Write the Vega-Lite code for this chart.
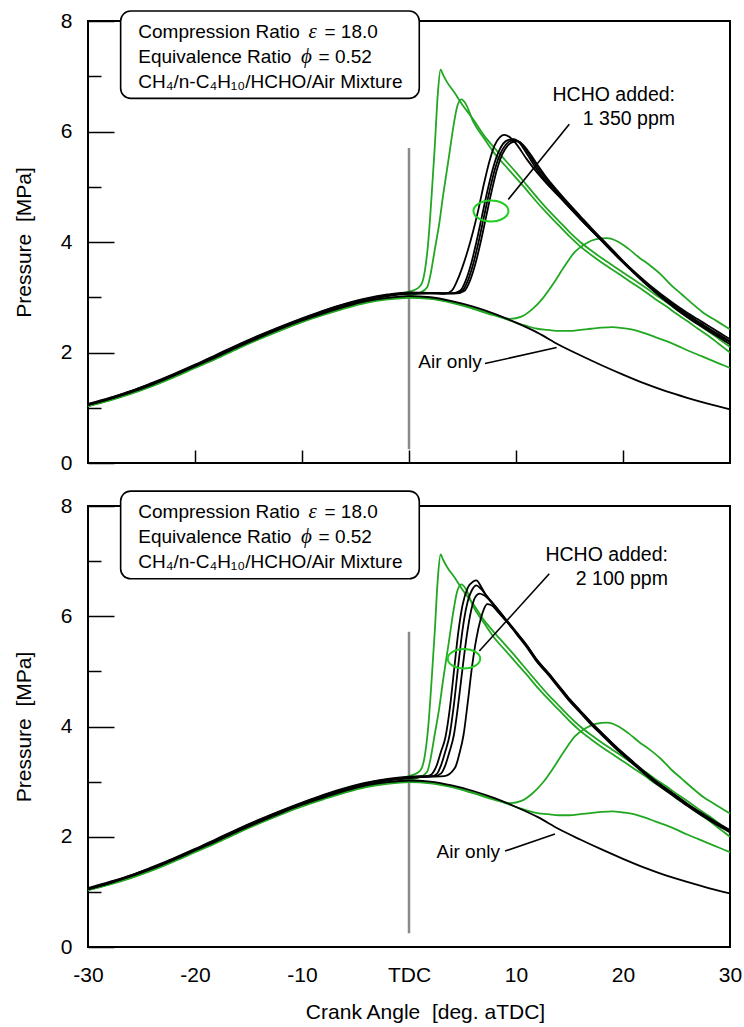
{
"$schema": "https://vega.github.io/schema/vega-lite/v6.json",
"padding": {"left": 12, "top": 9, "right": 5, "bottom": 3},
"spacing": 43,
"bounds": "flush",
"config": {"font": "Liberation Sans", "view": {"stroke": "#000000", "strokeWidth": 2}},
"datasets": {
"common": [
{"s":"G1","x":-30,"y":1.04},{"s":"G1","x":-28,"y":1.15},{"s":"G1","x":-26,"y":1.27},{"s":"G1","x":-24,"y":1.41},{"s":"G1","x":-22,"y":1.57},{"s":"G1","x":-20,"y":1.74},{"s":"G1","x":-18,"y":1.91},{"s":"G1","x":-16,"y":2.09},{"s":"G1","x":-14,"y":2.26},{"s":"G1","x":-12,"y":2.42},{"s":"G1","x":-10,"y":2.57},{"s":"G1","x":-8,"y":2.71},{"s":"G1","x":-6,"y":2.84},{"s":"G1","x":-4,"y":2.95},{"s":"G1","x":-2,"y":3.03},{"s":"G1","x":0,"y":3.1},{"s":"G1","x":0.8,"y":3.16},{"s":"G1","x":1.2,"y":3.25},{"s":"G1","x":1.5,"y":3.5},{"s":"G1","x":1.8,"y":4.0},{"s":"G1","x":2.1,"y":4.8},{"s":"G1","x":2.4,"y":5.7},{"s":"G1","x":2.7,"y":6.7},{"s":"G1","x":2.95,"y":7.12},{"s":"G1","x":3.2,"y":7.02},{"s":"G1","x":3.6,"y":6.88},{"s":"G1","x":4.2,"y":6.72},{"s":"G1","x":5,"y":6.48},{"s":"G1","x":6,"y":6.22},{"s":"G1","x":7,"y":5.93},{"s":"G1","x":8,"y":5.7},{"s":"G1","x":9,"y":5.48},{"s":"G1","x":10,"y":5.26},{"s":"G1","x":11,"y":5.03},{"s":"G1","x":12,"y":4.8},{"s":"G1","x":13,"y":4.58},{"s":"G1","x":14,"y":4.38},{"s":"G1","x":15,"y":4.18},{"s":"G1","x":16,"y":4.0},{"s":"G1","x":17,"y":3.85},{"s":"G1","x":18,"y":3.71},{"s":"G1","x":19,"y":3.58},{"s":"G1","x":20,"y":3.45},{"s":"G1","x":21,"y":3.32},{"s":"G1","x":22,"y":3.19},{"s":"G1","x":23,"y":3.05},{"s":"G1","x":24,"y":2.92},{"s":"G1","x":25,"y":2.78},{"s":"G1","x":26,"y":2.65},{"s":"G1","x":27,"y":2.51},{"s":"G1","x":28,"y":2.38},{"s":"G1","x":29,"y":2.24},{"s":"G1","x":30,"y":2.1},
{"s":"G2","x":-30,"y":1.03},{"s":"G2","x":-28,"y":1.14},{"s":"G2","x":-26,"y":1.26},{"s":"G2","x":-24,"y":1.4},{"s":"G2","x":-22,"y":1.56},{"s":"G2","x":-20,"y":1.73},{"s":"G2","x":-18,"y":1.9},{"s":"G2","x":-16,"y":2.08},{"s":"G2","x":-14,"y":2.25},{"s":"G2","x":-12,"y":2.41},{"s":"G2","x":-10,"y":2.56},{"s":"G2","x":-8,"y":2.69},{"s":"G2","x":-6,"y":2.81},{"s":"G2","x":-4,"y":2.91},{"s":"G2","x":-2,"y":2.98},{"s":"G2","x":0,"y":3.03},{"s":"G2","x":1,"y":3.08},{"s":"G2","x":1.7,"y":3.18},{"s":"G2","x":2.0,"y":3.4},{"s":"G2","x":2.4,"y":3.85},{"s":"G2","x":2.8,"y":4.3},{"s":"G2","x":3.2,"y":4.86},{"s":"G2","x":3.7,"y":5.5},{"s":"G2","x":4.2,"y":6.15},{"s":"G2","x":4.5,"y":6.45},{"s":"G2","x":4.9,"y":6.58},{"s":"G2","x":5.3,"y":6.5},{"s":"G2","x":6,"y":6.18},{"s":"G2","x":7,"y":5.88},{"s":"G2","x":8,"y":5.6},{"s":"G2","x":9,"y":5.38},{"s":"G2","x":10,"y":5.16},{"s":"G2","x":11,"y":4.94},{"s":"G2","x":12,"y":4.71},{"s":"G2","x":13,"y":4.5},{"s":"G2","x":14,"y":4.3},{"s":"G2","x":15,"y":4.1},{"s":"G2","x":16,"y":3.92},{"s":"G2","x":17,"y":3.77},{"s":"G2","x":18,"y":3.63},{"s":"G2","x":19,"y":3.5},{"s":"G2","x":20,"y":3.37},{"s":"G2","x":21,"y":3.24},{"s":"G2","x":22,"y":3.11},{"s":"G2","x":23,"y":2.97},{"s":"G2","x":24,"y":2.84},{"s":"G2","x":25,"y":2.7},{"s":"G2","x":26,"y":2.57},{"s":"G2","x":27,"y":2.43},{"s":"G2","x":28,"y":2.3},{"s":"G2","x":29,"y":2.15},{"s":"G2","x":30,"y":2.0},
{"s":"G3","x":-30,"y":1.03},{"s":"G3","x":-28,"y":1.13},{"s":"G3","x":-26,"y":1.25},{"s":"G3","x":-24,"y":1.39},{"s":"G3","x":-22,"y":1.55},{"s":"G3","x":-20,"y":1.72},{"s":"G3","x":-18,"y":1.89},{"s":"G3","x":-16,"y":2.07},{"s":"G3","x":-14,"y":2.24},{"s":"G3","x":-12,"y":2.4},{"s":"G3","x":-10,"y":2.55},{"s":"G3","x":-8,"y":2.68},{"s":"G3","x":-6,"y":2.8},{"s":"G3","x":-4,"y":2.9},{"s":"G3","x":-2,"y":2.96},{"s":"G3","x":0,"y":2.99},{"s":"G3","x":2,"y":2.97},{"s":"G3","x":4,"y":2.9},{"s":"G3","x":6,"y":2.79},{"s":"G3","x":8,"y":2.67},{"s":"G3","x":9.5,"y":2.61},{"s":"G3","x":10.5,"y":2.65},{"s":"G3","x":11.5,"y":2.78},{"s":"G3","x":12.5,"y":2.98},{"s":"G3","x":13.5,"y":3.25},{"s":"G3","x":14.5,"y":3.55},{"s":"G3","x":15.5,"y":3.82},{"s":"G3","x":16.5,"y":3.97},{"s":"G3","x":17.5,"y":4.05},{"s":"G3","x":18.5,"y":4.07},{"s":"G3","x":19.5,"y":4.01},{"s":"G3","x":20.5,"y":3.88},{"s":"G3","x":21.5,"y":3.72},{"s":"G3","x":22.5,"y":3.58},{"s":"G3","x":23.5,"y":3.42},{"s":"G3","x":24.5,"y":3.22},{"s":"G3","x":25.5,"y":3.05},{"s":"G3","x":26.5,"y":2.88},{"s":"G3","x":27.5,"y":2.72},{"s":"G3","x":28.5,"y":2.6},{"s":"G3","x":29.5,"y":2.48},{"s":"G3","x":30,"y":2.42},
{"s":"G4","x":-30,"y":1.04},{"s":"G4","x":-28,"y":1.15},{"s":"G4","x":-26,"y":1.27},{"s":"G4","x":-24,"y":1.41},{"s":"G4","x":-22,"y":1.57},{"s":"G4","x":-20,"y":1.74},{"s":"G4","x":-18,"y":1.91},{"s":"G4","x":-16,"y":2.09},{"s":"G4","x":-14,"y":2.26},{"s":"G4","x":-12,"y":2.42},{"s":"G4","x":-10,"y":2.57},{"s":"G4","x":-8,"y":2.7},{"s":"G4","x":-6,"y":2.82},{"s":"G4","x":-4,"y":2.92},{"s":"G4","x":-2,"y":2.98},{"s":"G4","x":0,"y":3.01},{"s":"G4","x":2,"y":2.98},{"s":"G4","x":4,"y":2.91},{"s":"G4","x":6,"y":2.8},{"s":"G4","x":8,"y":2.68},{"s":"G4","x":10,"y":2.54},{"s":"G4","x":11,"y":2.48},{"s":"G4","x":12,"y":2.43},{"s":"G4","x":13,"y":2.41},{"s":"G4","x":14,"y":2.39},{"s":"G4","x":15,"y":2.39},{"s":"G4","x":16,"y":2.41},{"s":"G4","x":17,"y":2.43},{"s":"G4","x":18,"y":2.45},{"s":"G4","x":19,"y":2.46},{"s":"G4","x":20,"y":2.44},{"s":"G4","x":21,"y":2.41},{"s":"G4","x":22,"y":2.35},{"s":"G4","x":23,"y":2.28},{"s":"G4","x":24,"y":2.21},{"s":"G4","x":25,"y":2.13},{"s":"G4","x":26,"y":2.04},{"s":"G4","x":27,"y":1.96},{"s":"G4","x":28,"y":1.88},{"s":"G4","x":29,"y":1.8},{"s":"G4","x":30,"y":1.72},
{"s":"Air","x":-30,"y":1.05},{"s":"Air","x":-28,"y":1.16},{"s":"Air","x":-26,"y":1.28},{"s":"Air","x":-24,"y":1.42},{"s":"Air","x":-22,"y":1.58},{"s":"Air","x":-20,"y":1.75},{"s":"Air","x":-18,"y":1.92},{"s":"Air","x":-16,"y":2.1},{"s":"Air","x":-14,"y":2.27},{"s":"Air","x":-12,"y":2.43},{"s":"Air","x":-10,"y":2.58},{"s":"Air","x":-8,"y":2.71},{"s":"Air","x":-6,"y":2.83},{"s":"Air","x":-4,"y":2.93},{"s":"Air","x":-2,"y":2.99},{"s":"Air","x":0,"y":3.02},{"s":"Air","x":2,"y":3.0},{"s":"Air","x":4,"y":2.93},{"s":"Air","x":6,"y":2.83},{"s":"Air","x":8,"y":2.7},{"s":"Air","x":10,"y":2.54},{"s":"Air","x":12,"y":2.36},{"s":"Air","x":14,"y":2.14},{"s":"Air","x":16,"y":1.95},{"s":"Air","x":18,"y":1.77},{"s":"Air","x":20,"y":1.6},{"s":"Air","x":22,"y":1.44},{"s":"Air","x":24,"y":1.3},{"s":"Air","x":26,"y":1.18},{"s":"Air","x":28,"y":1.07},{"s":"Air","x":30,"y":0.97}
],
"top": [
{"s":"B1","x":-30,"y":1.06},{"s":"B1","x":-28,"y":1.17},{"s":"B1","x":-26,"y":1.3},{"s":"B1","x":-24,"y":1.44},{"s":"B1","x":-22,"y":1.6},{"s":"B1","x":-20,"y":1.77},{"s":"B1","x":-18,"y":1.95},{"s":"B1","x":-16,"y":2.13},{"s":"B1","x":-14,"y":2.3},{"s":"B1","x":-12,"y":2.46},{"s":"B1","x":-10,"y":2.61},{"s":"B1","x":-8,"y":2.75},{"s":"B1","x":-6,"y":2.87},{"s":"B1","x":-4,"y":2.97},{"s":"B1","x":-2,"y":3.04},{"s":"B1","x":0,"y":3.07},{"s":"B1","x":2,"y":3.07},{"s":"B1","x":3.3,"y":3.06},{"s":"B1","x":4.0,"y":3.12},{"s":"B1","x":4.5,"y":3.3},{"s":"B1","x":5.0,"y":3.55},{"s":"B1","x":5.5,"y":3.85},{"s":"B1","x":6.0,"y":4.2},{"s":"B1","x":6.5,"y":4.6},{"s":"B1","x":7.0,"y":5.05},{"s":"B1","x":7.5,"y":5.45},{"s":"B1","x":8.0,"y":5.75},{"s":"B1","x":8.5,"y":5.9},{"s":"B1","x":8.9,"y":5.94},{"s":"B1","x":9.4,"y":5.9},{"s":"B1","x":10,"y":5.78},{"s":"B1","x":11,"y":5.5},{"s":"B1","x":12,"y":5.25},{"s":"B1","x":13,"y":5.03},{"s":"B1","x":14,"y":4.83},{"s":"B1","x":15,"y":4.62},{"s":"B1","x":16,"y":4.42},{"s":"B1","x":17,"y":4.22},{"s":"B1","x":18,"y":4.04},{"s":"B1","x":19,"y":3.84},{"s":"B1","x":20,"y":3.65},{"s":"B1","x":21,"y":3.47},{"s":"B1","x":22,"y":3.3},{"s":"B1","x":23,"y":3.14},{"s":"B1","x":24,"y":2.99},{"s":"B1","x":25,"y":2.85},{"s":"B1","x":26,"y":2.72},{"s":"B1","x":27,"y":2.6},{"s":"B1","x":28,"y":2.48},{"s":"B1","x":29,"y":2.36},{"s":"B1","x":30,"y":2.24},
{"s":"B2","x":-30,"y":1.05},{"s":"B2","x":-28,"y":1.16},{"s":"B2","x":-26,"y":1.29},{"s":"B2","x":-24,"y":1.43},{"s":"B2","x":-22,"y":1.59},{"s":"B2","x":-20,"y":1.76},{"s":"B2","x":-18,"y":1.94},{"s":"B2","x":-16,"y":2.12},{"s":"B2","x":-14,"y":2.29},{"s":"B2","x":-12,"y":2.45},{"s":"B2","x":-10,"y":2.6},{"s":"B2","x":-8,"y":2.74},{"s":"B2","x":-6,"y":2.86},{"s":"B2","x":-4,"y":2.96},{"s":"B2","x":-2,"y":3.03},{"s":"B2","x":0,"y":3.08},{"s":"B2","x":2,"y":3.08},{"s":"B2","x":4.0,"y":3.07},{"s":"B2","x":4.8,"y":3.12},{"s":"B2","x":5.3,"y":3.3},{"s":"B2","x":5.8,"y":3.6},{"s":"B2","x":6.3,"y":4.0},{"s":"B2","x":6.8,"y":4.45},{"s":"B2","x":7.3,"y":4.9},{"s":"B2","x":7.8,"y":5.3},{"s":"B2","x":8.3,"y":5.6},{"s":"B2","x":8.8,"y":5.78},{"s":"B2","x":9.3,"y":5.85},{"s":"B2","x":9.8,"y":5.86},{"s":"B2","x":10.3,"y":5.8},{"s":"B2","x":11,"y":5.6},{"s":"B2","x":12,"y":5.3},{"s":"B2","x":13,"y":5.06},{"s":"B2","x":14,"y":4.84},{"s":"B2","x":15,"y":4.63},{"s":"B2","x":16,"y":4.42},{"s":"B2","x":17,"y":4.22},{"s":"B2","x":18,"y":4.02},{"s":"B2","x":19,"y":3.82},{"s":"B2","x":20,"y":3.63},{"s":"B2","x":21,"y":3.45},{"s":"B2","x":22,"y":3.28},{"s":"B2","x":23,"y":3.11},{"s":"B2","x":24,"y":2.96},{"s":"B2","x":25,"y":2.82},{"s":"B2","x":26,"y":2.69},{"s":"B2","x":27,"y":2.56},{"s":"B2","x":28,"y":2.44},{"s":"B2","x":29,"y":2.32},{"s":"B2","x":30,"y":2.2},
{"s":"B3","x":-30,"y":1.07},{"s":"B3","x":-28,"y":1.18},{"s":"B3","x":-26,"y":1.3},{"s":"B3","x":-24,"y":1.45},{"s":"B3","x":-22,"y":1.61},{"s":"B3","x":-20,"y":1.78},{"s":"B3","x":-18,"y":1.96},{"s":"B3","x":-16,"y":2.14},{"s":"B3","x":-14,"y":2.31},{"s":"B3","x":-12,"y":2.47},{"s":"B3","x":-10,"y":2.62},{"s":"B3","x":-8,"y":2.76},{"s":"B3","x":-6,"y":2.88},{"s":"B3","x":-4,"y":2.98},{"s":"B3","x":-2,"y":3.05},{"s":"B3","x":0,"y":3.09},{"s":"B3","x":2,"y":3.08},{"s":"B3","x":4.2,"y":3.07},{"s":"B3","x":5.0,"y":3.12},{"s":"B3","x":5.5,"y":3.3},{"s":"B3","x":6.0,"y":3.6},{"s":"B3","x":6.5,"y":4.0},{"s":"B3","x":7.0,"y":4.45},{"s":"B3","x":7.5,"y":4.9},{"s":"B3","x":8.0,"y":5.3},{"s":"B3","x":8.5,"y":5.58},{"s":"B3","x":9.0,"y":5.75},{"s":"B3","x":9.5,"y":5.83},{"s":"B3","x":10.0,"y":5.84},{"s":"B3","x":10.5,"y":5.78},{"s":"B3","x":11,"y":5.65},{"s":"B3","x":12,"y":5.35},{"s":"B3","x":13,"y":5.1},{"s":"B3","x":14,"y":4.87},{"s":"B3","x":15,"y":4.65},{"s":"B3","x":16,"y":4.44},{"s":"B3","x":17,"y":4.23},{"s":"B3","x":18,"y":4.03},{"s":"B3","x":19,"y":3.83},{"s":"B3","x":20,"y":3.63},{"s":"B3","x":21,"y":3.44},{"s":"B3","x":22,"y":3.26},{"s":"B3","x":23,"y":3.09},{"s":"B3","x":24,"y":2.93},{"s":"B3","x":25,"y":2.78},{"s":"B3","x":26,"y":2.64},{"s":"B3","x":27,"y":2.51},{"s":"B3","x":28,"y":2.39},{"s":"B3","x":29,"y":2.27},{"s":"B3","x":30,"y":2.15},
{"s":"B4","x":-30,"y":1.06},{"s":"B4","x":-28,"y":1.16},{"s":"B4","x":-26,"y":1.29},{"s":"B4","x":-24,"y":1.43},{"s":"B4","x":-22,"y":1.59},{"s":"B4","x":-20,"y":1.76},{"s":"B4","x":-18,"y":1.93},{"s":"B4","x":-16,"y":2.11},{"s":"B4","x":-14,"y":2.28},{"s":"B4","x":-12,"y":2.44},{"s":"B4","x":-10,"y":2.59},{"s":"B4","x":-8,"y":2.73},{"s":"B4","x":-6,"y":2.85},{"s":"B4","x":-4,"y":2.95},{"s":"B4","x":-2,"y":3.02},{"s":"B4","x":0,"y":3.06},{"s":"B4","x":2,"y":3.07},{"s":"B4","x":4.4,"y":3.07},{"s":"B4","x":5.2,"y":3.12},{"s":"B4","x":5.7,"y":3.3},{"s":"B4","x":6.2,"y":3.6},{"s":"B4","x":6.7,"y":4.0},{"s":"B4","x":7.2,"y":4.45},{"s":"B4","x":7.7,"y":4.9},{"s":"B4","x":8.2,"y":5.3},{"s":"B4","x":8.7,"y":5.58},{"s":"B4","x":9.2,"y":5.74},{"s":"B4","x":9.7,"y":5.81},{"s":"B4","x":10.2,"y":5.82},{"s":"B4","x":10.7,"y":5.75},{"s":"B4","x":11.3,"y":5.6},{"s":"B4","x":12,"y":5.4},{"s":"B4","x":13,"y":5.13},{"s":"B4","x":14,"y":4.9},{"s":"B4","x":15,"y":4.68},{"s":"B4","x":16,"y":4.47},{"s":"B4","x":17,"y":4.26},{"s":"B4","x":18,"y":4.06},{"s":"B4","x":19,"y":3.86},{"s":"B4","x":20,"y":3.66},{"s":"B4","x":21,"y":3.47},{"s":"B4","x":22,"y":3.29},{"s":"B4","x":23,"y":3.12},{"s":"B4","x":24,"y":2.96},{"s":"B4","x":25,"y":2.81},{"s":"B4","x":26,"y":2.67},{"s":"B4","x":27,"y":2.54},{"s":"B4","x":28,"y":2.42},{"s":"B4","x":29,"y":2.3},{"s":"B4","x":30,"y":2.19}
],
"bottom": [
{"s":"B1","x":-30,"y":1.06},{"s":"B1","x":-28,"y":1.17},{"s":"B1","x":-26,"y":1.3},{"s":"B1","x":-24,"y":1.44},{"s":"B1","x":-22,"y":1.6},{"s":"B1","x":-20,"y":1.77},{"s":"B1","x":-18,"y":1.95},{"s":"B1","x":-16,"y":2.13},{"s":"B1","x":-14,"y":2.3},{"s":"B1","x":-12,"y":2.46},{"s":"B1","x":-10,"y":2.61},{"s":"B1","x":-8,"y":2.75},{"s":"B1","x":-6,"y":2.87},{"s":"B1","x":-4,"y":2.97},{"s":"B1","x":-2,"y":3.04},{"s":"B1","x":0,"y":3.07},{"s":"B1","x":1,"y":3.08},{"s":"B1","x":2,"y":3.12},{"s":"B1","x":2.6,"y":3.3},{"s":"B1","x":3.0,"y":3.55},{"s":"B1","x":3.4,"y":3.8},{"s":"B1","x":3.8,"y":4.3},{"s":"B1","x":4.2,"y":5.0},{"s":"B1","x":4.6,"y":5.7},{"s":"B1","x":5.0,"y":6.2},{"s":"B1","x":5.5,"y":6.52},{"s":"B1","x":6.0,"y":6.63},{"s":"B1","x":6.3,"y":6.65},{"s":"B1","x":6.7,"y":6.55},{"s":"B1","x":7.2,"y":6.38},{"s":"B1","x":8,"y":6.18},{"s":"B1","x":9,"y":5.94},{"s":"B1","x":10,"y":5.7},{"s":"B1","x":11,"y":5.46},{"s":"B1","x":12,"y":5.18},{"s":"B1","x":13,"y":4.96},{"s":"B1","x":14,"y":4.72},{"s":"B1","x":15,"y":4.48},{"s":"B1","x":16,"y":4.27},{"s":"B1","x":17,"y":4.06},{"s":"B1","x":18,"y":3.87},{"s":"B1","x":19,"y":3.68},{"s":"B1","x":20,"y":3.5},{"s":"B1","x":21,"y":3.33},{"s":"B1","x":22,"y":3.16},{"s":"B1","x":23,"y":3.0},{"s":"B1","x":24,"y":2.86},{"s":"B1","x":25,"y":2.72},{"s":"B1","x":26,"y":2.58},{"s":"B1","x":27,"y":2.45},{"s":"B1","x":28,"y":2.33},{"s":"B1","x":29,"y":2.21},{"s":"B1","x":30,"y":2.1},
{"s":"B2","x":-30,"y":1.05},{"s":"B2","x":-28,"y":1.16},{"s":"B2","x":-26,"y":1.29},{"s":"B2","x":-24,"y":1.43},{"s":"B2","x":-22,"y":1.59},{"s":"B2","x":-20,"y":1.76},{"s":"B2","x":-18,"y":1.94},{"s":"B2","x":-16,"y":2.12},{"s":"B2","x":-14,"y":2.29},{"s":"B2","x":-12,"y":2.45},{"s":"B2","x":-10,"y":2.6},{"s":"B2","x":-8,"y":2.74},{"s":"B2","x":-6,"y":2.86},{"s":"B2","x":-4,"y":2.96},{"s":"B2","x":-2,"y":3.03},{"s":"B2","x":0,"y":3.08},{"s":"B2","x":1,"y":3.09},{"s":"B2","x":2,"y":3.09},{"s":"B2","x":2.6,"y":3.14},{"s":"B2","x":3.0,"y":3.3},{"s":"B2","x":3.4,"y":3.55},{"s":"B2","x":3.8,"y":3.85},{"s":"B2","x":4.2,"y":4.4},{"s":"B2","x":4.6,"y":5.1},{"s":"B2","x":5.0,"y":5.75},{"s":"B2","x":5.4,"y":6.2},{"s":"B2","x":5.9,"y":6.48},{"s":"B2","x":6.3,"y":6.56},{"s":"B2","x":6.7,"y":6.5},{"s":"B2","x":7.3,"y":6.36},{"s":"B2","x":8,"y":6.2},{"s":"B2","x":9,"y":5.96},{"s":"B2","x":10,"y":5.72},{"s":"B2","x":11,"y":5.48},{"s":"B2","x":12,"y":5.2},{"s":"B2","x":13,"y":4.98},{"s":"B2","x":14,"y":4.74},{"s":"B2","x":15,"y":4.5},{"s":"B2","x":16,"y":4.29},{"s":"B2","x":17,"y":4.08},{"s":"B2","x":18,"y":3.89},{"s":"B2","x":19,"y":3.7},{"s":"B2","x":20,"y":3.52},{"s":"B2","x":21,"y":3.35},{"s":"B2","x":22,"y":3.18},{"s":"B2","x":23,"y":3.02},{"s":"B2","x":24,"y":2.88},{"s":"B2","x":25,"y":2.74},{"s":"B2","x":26,"y":2.6},{"s":"B2","x":27,"y":2.47},{"s":"B2","x":28,"y":2.35},{"s":"B2","x":29,"y":2.23},{"s":"B2","x":30,"y":2.12},
{"s":"B3","x":-30,"y":1.07},{"s":"B3","x":-28,"y":1.18},{"s":"B3","x":-26,"y":1.3},{"s":"B3","x":-24,"y":1.45},{"s":"B3","x":-22,"y":1.61},{"s":"B3","x":-20,"y":1.78},{"s":"B3","x":-18,"y":1.96},{"s":"B3","x":-16,"y":2.14},{"s":"B3","x":-14,"y":2.31},{"s":"B3","x":-12,"y":2.47},{"s":"B3","x":-10,"y":2.62},{"s":"B3","x":-8,"y":2.76},{"s":"B3","x":-6,"y":2.88},{"s":"B3","x":-4,"y":2.98},{"s":"B3","x":-2,"y":3.05},{"s":"B3","x":0,"y":3.09},{"s":"B3","x":1,"y":3.1},{"s":"B3","x":2.4,"y":3.1},{"s":"B3","x":3.0,"y":3.15},{"s":"B3","x":3.4,"y":3.3},{"s":"B3","x":3.8,"y":3.55},{"s":"B3","x":4.2,"y":3.85},{"s":"B3","x":4.6,"y":4.4},{"s":"B3","x":5.0,"y":5.05},{"s":"B3","x":5.4,"y":5.65},{"s":"B3","x":5.8,"y":6.1},{"s":"B3","x":6.2,"y":6.35},{"s":"B3","x":6.6,"y":6.41},{"s":"B3","x":7.0,"y":6.38},{"s":"B3","x":7.6,"y":6.28},{"s":"B3","x":8.3,"y":6.12},{"s":"B3","x":9,"y":5.94},{"s":"B3","x":10,"y":5.69},{"s":"B3","x":11,"y":5.44},{"s":"B3","x":12,"y":5.16},{"s":"B3","x":13,"y":4.94},{"s":"B3","x":14,"y":4.7},{"s":"B3","x":15,"y":4.46},{"s":"B3","x":16,"y":4.25},{"s":"B3","x":17,"y":4.04},{"s":"B3","x":18,"y":3.85},{"s":"B3","x":19,"y":3.66},{"s":"B3","x":20,"y":3.48},{"s":"B3","x":21,"y":3.31},{"s":"B3","x":22,"y":3.14},{"s":"B3","x":23,"y":2.98},{"s":"B3","x":24,"y":2.84},{"s":"B3","x":25,"y":2.7},{"s":"B3","x":26,"y":2.56},{"s":"B3","x":27,"y":2.43},{"s":"B3","x":28,"y":2.31},{"s":"B3","x":29,"y":2.19},{"s":"B3","x":30,"y":2.08},
{"s":"B4","x":-30,"y":1.06},{"s":"B4","x":-28,"y":1.16},{"s":"B4","x":-26,"y":1.29},{"s":"B4","x":-24,"y":1.43},{"s":"B4","x":-22,"y":1.59},{"s":"B4","x":-20,"y":1.76},{"s":"B4","x":-18,"y":1.93},{"s":"B4","x":-16,"y":2.11},{"s":"B4","x":-14,"y":2.28},{"s":"B4","x":-12,"y":2.44},{"s":"B4","x":-10,"y":2.59},{"s":"B4","x":-8,"y":2.73},{"s":"B4","x":-6,"y":2.85},{"s":"B4","x":-4,"y":2.95},{"s":"B4","x":-2,"y":3.02},{"s":"B4","x":0,"y":3.06},{"s":"B4","x":1,"y":3.08},{"s":"B4","x":2,"y":3.09},{"s":"B4","x":3.3,"y":3.1},{"s":"B4","x":4.3,"y":3.25},{"s":"B4","x":4.7,"y":3.5},{"s":"B4","x":5.1,"y":3.85},{"s":"B4","x":5.5,"y":4.45},{"s":"B4","x":5.9,"y":5.1},{"s":"B4","x":6.3,"y":5.6},{"s":"B4","x":6.7,"y":5.95},{"s":"B4","x":7.0,"y":6.13},{"s":"B4","x":7.3,"y":6.22},{"s":"B4","x":7.7,"y":6.2},{"s":"B4","x":8.3,"y":6.08},{"s":"B4","x":9,"y":5.93},{"s":"B4","x":10,"y":5.71},{"s":"B4","x":11,"y":5.47},{"s":"B4","x":12,"y":5.19},{"s":"B4","x":13,"y":4.97},{"s":"B4","x":14,"y":4.73},{"s":"B4","x":15,"y":4.49},{"s":"B4","x":16,"y":4.28},{"s":"B4","x":17,"y":4.07},{"s":"B4","x":18,"y":3.88},{"s":"B4","x":19,"y":3.69},{"s":"B4","x":20,"y":3.51},{"s":"B4","x":21,"y":3.34},{"s":"B4","x":22,"y":3.17},{"s":"B4","x":23,"y":3.01},{"s":"B4","x":24,"y":2.87},{"s":"B4","x":25,"y":2.73},{"s":"B4","x":26,"y":2.59},{"s":"B4","x":27,"y":2.46},{"s":"B4","x":28,"y":2.34},{"s":"B4","x":29,"y":2.22},{"s":"B4","x":30,"y":2.11}
],
"notes": [
{"p":"top","k":"tdc","x":0,"y":0.25,"y2":5.7},
{"p":"bottom","k":"tdc","x":0,"y":0.25,"y2":5.72},
{"p":"top","k":"box","x":-26.95,"x2":0.96,"y":8.18,"y2":6.6},
{"p":"bottom","k":"box","x":-26.95,"x2":0.96,"y":8.27,"y2":6.68},
{"p":"top","k":"txt","x":-25.3,"y":7.69,"t":"Compression Ratio"},
{"p":"top","k":"txt","x":-7.9,"y":7.69,"t":"= 18.0"},
{"p":"top","k":"txt","x":-25.3,"y":7.24,"t":"Equivalence Ratio"},
{"p":"top","k":"txt","x":-8.45,"y":7.24,"t":"= 0.52"},
{"p":"top","k":"txt","x":-25.3,"y":6.79,"t":"CH₄/n-C₄H₁₀/HCHO/Air Mixture"},
{"p":"top","k":"txt","x":0.87,"y":1.72,"t":"Air only"},
{"p":"top","k":"sym","x":-9.4,"y":7.69,"t":"ε"},
{"p":"top","k":"sym","x":-10.1,"y":7.24,"t":"ϕ"},
{"p":"bottom","k":"txt","x":-25.3,"y":7.78,"t":"Compression Ratio"},
{"p":"bottom","k":"txt","x":-7.9,"y":7.78,"t":"= 18.0"},
{"p":"bottom","k":"txt","x":-25.3,"y":7.33,"t":"Equivalence Ratio"},
{"p":"bottom","k":"txt","x":-8.45,"y":7.33,"t":"= 0.52"},
{"p":"bottom","k":"txt","x":-25.3,"y":6.88,"t":"CH₄/n-C₄H₁₀/HCHO/Air Mixture"},
{"p":"bottom","k":"txt","x":2.58,"y":1.61,"t":"Air only"},
{"p":"bottom","k":"sym","x":-9.4,"y":7.78,"t":"ε"},
{"p":"bottom","k":"sym","x":-10.1,"y":7.33,"t":"ϕ"},
{"p":"top","k":"rtxt","x":24.86,"y":6.56,"t":"HCHO added:"},
{"p":"top","k":"rtxt","x":24.86,"y":6.12,"t":"1 350 ppm"},
{"p":"bottom","k":"rtxt","x":24.2,"y":7.0,"t":"HCHO added:"},
{"p":"bottom","k":"rtxt","x":24.2,"y":6.57,"t":"2 100 ppm"},
{"p":"top","k":"ptr","x":14.98,"y":6.13,"x2":9.28,"y2":4.77},
{"p":"top","k":"ptr","x":7.1,"y":1.8,"x2":13.8,"y2":2.09},
{"p":"bottom","k":"ptr","x":13.11,"y":6.77,"x2":6.57,"y2":5.37},
{"p":"bottom","k":"ptr","x":8.97,"y":1.74,"x2":13.64,"y2":2.05},
{"p":"top","k":"ell","x":7.66,"y":4.56},
{"p":"bottom","k":"ell","x":5.14,"y":5.23}
]
},
"vconcat": [
{
"width": 642, "height": 442,
"layer": [
{"data": {"name": "notes"}, "transform": [{"filter": "datum.p === 'top' && datum.k === 'tdc'"}],
 "mark": {"type": "rule", "color": "#8a8a8a", "strokeWidth": 2.5},
 "encoding": {
  "x": {"field": "x", "type": "quantitative", "scale": {"domain": [-30, 30], "nice": false},
   "axis": {"values": [-20, -10, 0, 10, 20], "labels": false, "tickSize": -13, "tickWidth": 1.5, "tickColor": "#000000", "domain": false, "grid": false, "title": null}},
  "y": {"field": "y", "type": "quantitative", "scale": {"domain": [0, 8], "nice": false},
   "axis": {"values": [0, 1, 2, 3, 4, 5, 6, 7, 8], "labelExpr": "datum.value % 2 === 0 ? '' + datum.value : ''",
    "tickSize": {"condition": {"test": "datum.value % 2 === 0", "value": -26}, "value": -13},
    "tickWidth": 1.5, "tickColor": "#000000", "labelPadding": 42, "labelFontSize": 21, "labelColor": "#000000",
    "domain": false, "grid": false, "title": "Pressure \u00a0[MPa]", "titleFontSize": 21, "titleFontWeight": "normal", "titleColor": "#000000", "titlePadding": 26}},
  "y2": {"field": "y2"}}},
{"data": {"name": "common"}, "mark": {"type": "line", "strokeWidth": 1.8, "interpolate": "monotone"},
 "encoding": {"x": {"field": "x", "type": "quantitative"}, "y": {"field": "y", "type": "quantitative"},
  "color": {"field": "s", "type": "nominal", "legend": null, "scale": {"domain": ["G1","G2","G3","G4","Air","B1","B2","B3","B4"], "range": ["#22a722","#22a722","#22a722","#22a722","#000000","#000000","#000000","#000000","#000000"]}}}},
{"data": {"name": "top"}, "mark": {"type": "line", "strokeWidth": 1.8, "interpolate": "monotone"},
 "encoding": {"x": {"field": "x", "type": "quantitative"}, "y": {"field": "y", "type": "quantitative"},
  "color": {"field": "s", "type": "nominal", "legend": null}}},
{"data": {"name": "notes"}, "transform": [{"filter": "datum.p === 'top' && datum.k === 'box'"}],
 "mark": {"type": "rect", "fill": "#ffffff", "stroke": "#000000", "strokeWidth": 1.6, "cornerRadius": 10},
 "encoding": {"x": {"field": "x", "type": "quantitative"}, "x2": {"field": "x2"}, "y": {"field": "y", "type": "quantitative"}, "y2": {"field": "y2"}}},
{"data": {"name": "notes"}, "transform": [{"filter": "datum.p === 'top' && datum.k === 'txt'"}],
 "mark": {"type": "text", "align": "left", "baseline": "alphabetic", "fontSize": 19, "color": "#000000"},
 "encoding": {"x": {"field": "x", "type": "quantitative"}, "y": {"field": "y", "type": "quantitative"}, "text": {"field": "t"}}},
{"data": {"name": "notes"}, "transform": [{"filter": "datum.p === 'top' && datum.k === 'sym'"}],
 "mark": {"type": "text", "align": "left", "baseline": "alphabetic", "fontSize": 21, "font": "Liberation Serif", "fontStyle": "italic", "color": "#000000"},
 "encoding": {"x": {"field": "x", "type": "quantitative"}, "y": {"field": "y", "type": "quantitative"}, "text": {"field": "t"}}},
{"data": {"name": "notes"}, "transform": [{"filter": "datum.p === 'top' && datum.k === 'rtxt'"}],
 "mark": {"type": "text", "align": "right", "baseline": "alphabetic", "fontSize": 19.5, "color": "#000000"},
 "encoding": {"x": {"field": "x", "type": "quantitative"}, "y": {"field": "y", "type": "quantitative"}, "text": {"field": "t"}}},
{"data": {"name": "notes"}, "transform": [{"filter": "datum.p === 'top' && datum.k === 'ptr'"}],
 "mark": {"type": "rule", "color": "#000000", "strokeWidth": 1.6},
 "encoding": {"x": {"field": "x", "type": "quantitative"}, "y": {"field": "y", "type": "quantitative"}, "x2": {"field": "x2"}, "y2": {"field": "y2"}}},
{"data": {"name": "notes"}, "transform": [{"filter": "datum.p === 'top' && datum.k === 'ell'"}],
 "mark": {"type": "point", "filled": false, "stroke": "#22cc22", "strokeWidth": 2, "opacity": 1,
  "shape": "M -1 0 C -1 -0.331 -0.552 -0.6 0 -0.6 C 0.552 -0.6 1 -0.331 1 0 C 1 0.331 0.552 0.6 0 0.6 C -0.552 0.6 -1 0.331 -1 0 Z"},
 "encoding": {"x": {"field": "x", "type": "quantitative"}, "y": {"field": "y", "type": "quantitative"}, "size": {"value": 1225}}}
]
},
{
"width": 642, "height": 441,
"layer": [
{"data": {"name": "notes"}, "transform": [{"filter": "datum.p === 'bottom' && datum.k === 'tdc'"}],
 "mark": {"type": "rule", "color": "#8a8a8a", "strokeWidth": 2.5},
 "encoding": {
  "x": {"field": "x", "type": "quantitative", "scale": {"domain": [-30, 30], "nice": false},
   "axis": {"values": [-30, -20, -10, 0, 10, 20, 30], "labelExpr": "datum.value === 0 ? 'TDC' : '' + datum.value",
    "ticks": false, "labelPadding": 17, "labelFontSize": 21, "labelColor": "#000000", "labelFlush": false, "labelOverlap": false,
    "domain": false, "grid": false, "title": "Crank Angle\u00a0 [deg. aTDC]", "titleFontSize": 21, "titleFontWeight": "normal", "titleColor": "#000000", "titlePadding": 16, "titleX": 337}},
  "y": {"field": "y", "type": "quantitative", "scale": {"domain": [0, 8], "nice": false},
   "axis": {"values": [0, 1, 2, 3, 4, 5, 6, 7, 8], "labelExpr": "datum.value % 2 === 0 ? '' + datum.value : ''",
    "tickSize": {"condition": {"test": "datum.value % 2 === 0", "value": -26}, "value": -13},
    "tickWidth": 1.5, "tickColor": "#000000", "labelPadding": 42, "labelFontSize": 21, "labelColor": "#000000",
    "domain": false, "grid": false, "title": "Pressure \u00a0[MPa]", "titleFontSize": 21, "titleFontWeight": "normal", "titleColor": "#000000", "titlePadding": 26}},
  "y2": {"field": "y2"}}},
{"data": {"name": "common"}, "mark": {"type": "line", "strokeWidth": 1.8, "interpolate": "monotone"},
 "encoding": {"x": {"field": "x", "type": "quantitative"}, "y": {"field": "y", "type": "quantitative"},
  "color": {"field": "s", "type": "nominal", "legend": null, "scale": {"domain": ["G1","G2","G3","G4","Air","B1","B2","B3","B4"], "range": ["#22a722","#22a722","#22a722","#22a722","#000000","#000000","#000000","#000000","#000000"]}}}},
{"data": {"name": "bottom"}, "mark": {"type": "line", "strokeWidth": 1.8, "interpolate": "monotone"},
 "encoding": {"x": {"field": "x", "type": "quantitative"}, "y": {"field": "y", "type": "quantitative"},
  "color": {"field": "s", "type": "nominal", "legend": null}}},
{"data": {"name": "notes"}, "transform": [{"filter": "datum.p === 'bottom' && datum.k === 'box'"}],
 "mark": {"type": "rect", "fill": "#ffffff", "stroke": "#000000", "strokeWidth": 1.6, "cornerRadius": 10},
 "encoding": {"x": {"field": "x", "type": "quantitative"}, "x2": {"field": "x2"}, "y": {"field": "y", "type": "quantitative"}, "y2": {"field": "y2"}}},
{"data": {"name": "notes"}, "transform": [{"filter": "datum.p === 'bottom' && datum.k === 'txt'"}],
 "mark": {"type": "text", "align": "left", "baseline": "alphabetic", "fontSize": 19, "color": "#000000"},
 "encoding": {"x": {"field": "x", "type": "quantitative"}, "y": {"field": "y", "type": "quantitative"}, "text": {"field": "t"}}},
{"data": {"name": "notes"}, "transform": [{"filter": "datum.p === 'bottom' && datum.k === 'sym'"}],
 "mark": {"type": "text", "align": "left", "baseline": "alphabetic", "fontSize": 21, "font": "Liberation Serif", "fontStyle": "italic", "color": "#000000"},
 "encoding": {"x": {"field": "x", "type": "quantitative"}, "y": {"field": "y", "type": "quantitative"}, "text": {"field": "t"}}},
{"data": {"name": "notes"}, "transform": [{"filter": "datum.p === 'bottom' && datum.k === 'rtxt'"}],
 "mark": {"type": "text", "align": "right", "baseline": "alphabetic", "fontSize": 19.5, "color": "#000000"},
 "encoding": {"x": {"field": "x", "type": "quantitative"}, "y": {"field": "y", "type": "quantitative"}, "text": {"field": "t"}}},
{"data": {"name": "notes"}, "transform": [{"filter": "datum.p === 'bottom' && datum.k === 'ptr'"}],
 "mark": {"type": "rule", "color": "#000000", "strokeWidth": 1.6},
 "encoding": {"x": {"field": "x", "type": "quantitative"}, "y": {"field": "y", "type": "quantitative"}, "x2": {"field": "x2"}, "y2": {"field": "y2"}}},
{"data": {"name": "notes"}, "transform": [{"filter": "datum.p === 'bottom' && datum.k === 'ell'"}],
 "mark": {"type": "point", "filled": false, "stroke": "#22cc22", "strokeWidth": 2, "opacity": 1,
  "shape": "M -1 0 C -1 -0.331 -0.552 -0.6 0 -0.6 C 0.552 -0.6 1 -0.331 1 0 C 1 0.331 0.552 0.6 0 0.6 C -0.552 0.6 -1 0.331 -1 0 Z"},
 "encoding": {"x": {"field": "x", "type": "quantitative"}, "y": {"field": "y", "type": "quantitative"}, "size": {"value": 1050}}}
]
}
]
}
